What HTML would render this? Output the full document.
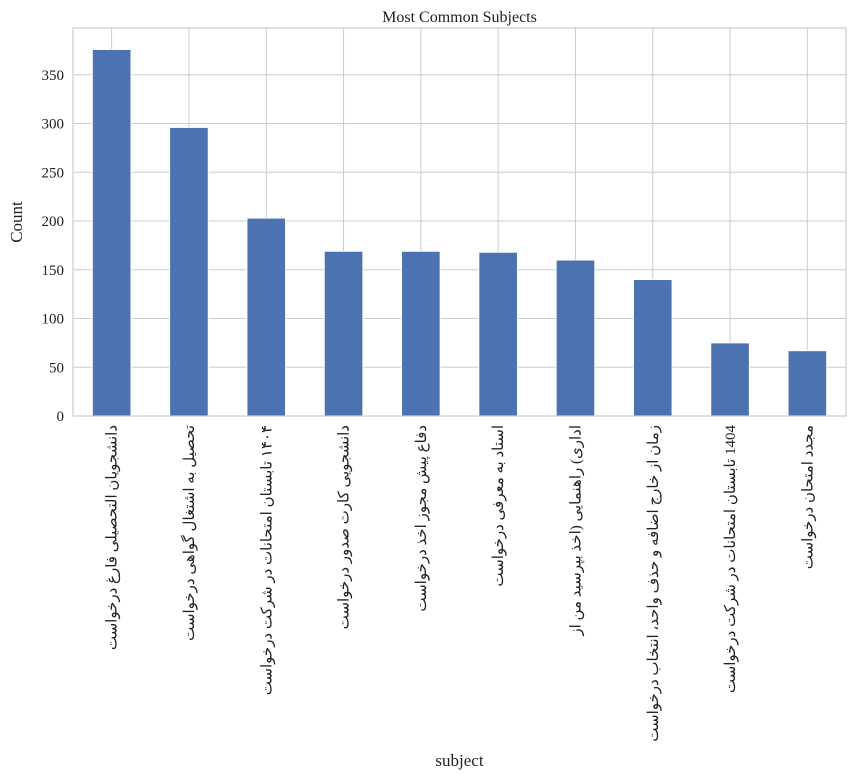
<!DOCTYPE html>
<html><head><meta charset="utf-8"><style>
body{margin:0;background:#fff;}
svg text{font-family:"Liberation Serif","Noto Serif CJK SC",serif;fill:#222;}
.xl{font-family:"Liberation Serif","Noto Sans CJK SC",serif;font-size:15px;direction:rtl;}
</style></head><body>
<svg id="c" width="856" height="777" xmlns="http://www.w3.org/2000/svg"></svg>
<script>
const categories=["درخواست فارغ التحصیلی دانشجویان","درخواست گواهی اشتغال به تحصیل","درخواست شرکت در امتحانات تابستان ۱۴۰۴","درخواست صدور کارت دانشجویی","درخواست اخذ مجوز پیش دفاع","درخواست معرفی به استاد","از من بپرسید (اخذ راهنمایی اداری)","درخواست انتخاب واحد، حذف و اضافه خارج از زمان","درخواست شرکت در امتحانات تابستان 1404","درخواست امتحان مجدد"];
const counts=[376,296,203,169,169,168,160,140,75,67];
const yTicks=[0,50,100,150,200,250,300,350];
const svg=document.getElementById('c');const NS="http://www.w3.org/2000/svg";
const L=73,R=846,T=28,B=416,ymax=398;
const x=i=>L+(i+0.5)*(R-L)/categories.length;
const y=v=>B-v/ymax*(B-T);
const bw=0.5*(R-L)/categories.length;
function mk(t,a,p){const e=document.createElementNS(NS,t);for(const k in a)e.setAttribute(k,a[k]);(p||svg).appendChild(e);return e;}
yTicks.forEach(v=>{
 const g=mk('line',{x1:L,x2:R,y1:y(v),y2:y(v),stroke:'#ccc','stroke-width':1});
 
 
 const t=mk('text',{x:L-9,y:y(v)+5,'text-anchor':'end','font-size':15});t.textContent=v;
 
 
});
categories.forEach((c,i)=>{
 const g=mk('line',{x1:x(i),x2:x(i),y1:T,y2:B,stroke:'#ccc','stroke-width':1});
 
 
});
counts.forEach((v,i)=>{
 const r=mk('rect',{x:x(i)-bw/2,y:y(v),width:bw,height:B-y(v),fill:'#4c72b0',stroke:'#fff','stroke-width':1});
 
 
});
categories.forEach((c,i)=>{
 const s=c.split(' ').reverse().join(' ');
 const t=mk('text',{class:'xl',transform:`translate(${x(i)+5},425) rotate(-90)`,'text-anchor':'start'});t.textContent=s;
 
 
});
const f=mk('rect',{x:L,y:T,width:R-L,height:B-T,fill:'none',stroke:'#ccc','stroke-width':1.2});


const ti=mk('text',{x:(L+R)/2,y:22,'text-anchor':'middle','font-size':16});ti.textContent='Most Common Subjects';


const yl=mk('text',{transform:'translate(22,222) rotate(-90)','text-anchor':'middle','font-size':17});yl.textContent='Count';


const xl=mk('text',{x:(L+R)/2,y:766,'text-anchor':'middle','font-size':17});xl.textContent='subject';


</script>
</body></html>
